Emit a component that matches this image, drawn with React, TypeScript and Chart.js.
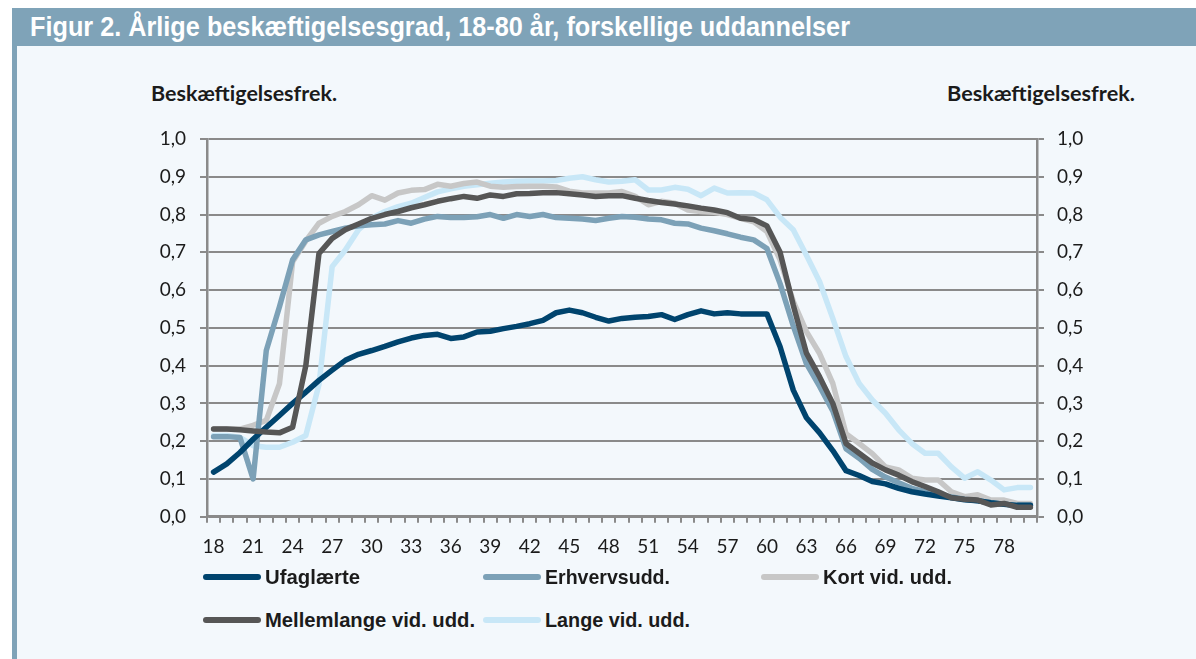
import React, { useEffect, useLayoutEffect, useRef } from 'react';
import { Chart, registerables } from 'chart.js';

Chart.register(...registerables);

const TITLE = 'Figur 2. Årlige beskæftigelsesgrad, 18-80 år, forskellige uddannelser';
const AXIS_TITLE = 'Beskæftigelsesfrek.';

const AGES = [
  '18', '19', '20', '21', '22', '23', '24', '25', '26', '27', '28', '29', '30', '31', '32', '33',
  '34', '35', '36', '37', '38', '39', '40', '41', '42', '43', '44', '45', '46', '47', '48', '49',
  '50', '51', '52', '53', '54', '55', '56', '57', '58', '59', '60', '61', '62', '63', '64', '65',
  '66', '67', '68', '69', '70', '71', '72', '73', '74', '75', '76', '77', '78', '79', '80',
];

const X_TICK_LABELS = ['18', '21', '24', '27', '30', '33', '36', '39', '42', '45', '48', '51', '54', '57', '60', '63', '66', '69', '72', '75', '78'];
const Y_TICK_LABELS = ['0,0', '0,1', '0,2', '0,3', '0,4', '0,5', '0,6', '0,7', '0,8', '0,9', '1,0'];

const UFAGLAERTE = [
  0.118, 0.14, 0.17, 0.205, 0.237, 0.268, 0.3, 0.33, 0.361, 0.388, 0.414, 0.43, 0.44, 0.451, 0.463, 0.473,
  0.48, 0.483, 0.472, 0.476, 0.489, 0.491, 0.498, 0.504, 0.511, 0.52, 0.54, 0.547, 0.54, 0.528, 0.518, 0.525,
  0.528, 0.53, 0.535, 0.522, 0.535, 0.545, 0.537, 0.54, 0.537, 0.537, 0.537, 0.45, 0.335, 0.262, 0.222, 0.175,
  0.122, 0.109, 0.093, 0.087, 0.075, 0.066, 0.06, 0.055, 0.05, 0.045, 0.042, 0.037, 0.033, 0.03, 0.03,
];

const ERHVERVSUDD = [
  0.212, 0.212, 0.21, 0.1, 0.44, 0.556, 0.68, 0.733, 0.746, 0.755, 0.764, 0.77, 0.773, 0.775, 0.784, 0.777,
  0.788, 0.795, 0.792, 0.792, 0.794, 0.8, 0.79, 0.8, 0.795, 0.8, 0.792, 0.79, 0.788, 0.784, 0.79, 0.795,
  0.793, 0.788, 0.786, 0.777, 0.775, 0.764, 0.757, 0.749, 0.74, 0.733, 0.71, 0.617, 0.505, 0.405, 0.345, 0.28,
  0.18, 0.155, 0.125, 0.105, 0.09, 0.075, 0.066, 0.058, 0.052, 0.046, 0.042, 0.037, 0.033, 0.03, 0.03,
];

const KORT = [
  0.232, 0.232, 0.232, 0.242, 0.255, 0.352, 0.675, 0.73, 0.777, 0.795, 0.808, 0.826, 0.85, 0.838, 0.857, 0.864,
  0.866, 0.88, 0.875, 0.882, 0.886, 0.875, 0.872, 0.874, 0.875, 0.875, 0.873, 0.862, 0.857, 0.857, 0.857, 0.861,
  0.848, 0.826, 0.835, 0.83, 0.812, 0.808, 0.806, 0.8, 0.79, 0.781, 0.755, 0.68, 0.57, 0.49, 0.432, 0.353,
  0.22, 0.194, 0.167, 0.132, 0.124, 0.102, 0.097, 0.097, 0.066, 0.053, 0.058, 0.044, 0.044, 0.035, 0.035,
];

const MELLEMLANGE = [
  0.232, 0.232, 0.23, 0.227, 0.224, 0.222, 0.237, 0.4, 0.697, 0.737, 0.76, 0.775, 0.79, 0.8, 0.808, 0.818,
  0.826, 0.835, 0.842, 0.848, 0.843, 0.852, 0.848, 0.855, 0.856, 0.858, 0.858, 0.855, 0.852, 0.848, 0.85, 0.85,
  0.843, 0.837, 0.832, 0.828, 0.823, 0.817, 0.812, 0.805, 0.79, 0.787, 0.77, 0.7, 0.56, 0.433, 0.37, 0.3,
  0.194, 0.168, 0.142, 0.124, 0.11, 0.093, 0.08, 0.066, 0.05, 0.046, 0.044, 0.031, 0.035, 0.025, 0.025,
];

const LANGE = [
  0.215, 0.215, 0.21, 0.188, 0.184, 0.184, 0.197, 0.215, 0.35, 0.662, 0.706, 0.76, 0.79, 0.808, 0.821, 0.83,
  0.845, 0.86, 0.868, 0.875, 0.879, 0.883, 0.886, 0.888, 0.889, 0.889, 0.89, 0.896, 0.9, 0.892, 0.886, 0.888,
  0.892, 0.865, 0.865, 0.872, 0.867, 0.85, 0.87, 0.857, 0.858, 0.857, 0.839, 0.793, 0.76, 0.692, 0.622, 0.525,
  0.424, 0.353, 0.309, 0.274, 0.23, 0.194, 0.168, 0.168, 0.132, 0.102, 0.119, 0.097, 0.071, 0.077, 0.077,
];

const SERIES_NAMES = ['Ufaglærte', 'Erhvervsudd.', 'Kort vid. udd.', 'Mellemlange vid. udd.', 'Lange vid. udd.'];
const SERIES_VALUES = [UFAGLAERTE, ERHVERVSUDD, KORT, MELLEMLANGE, LANGE];
const SERIES_COLORS = ['#00446e', '#7ca1b7', '#c7c7c7', '#565656', '#c8e7f7'];
const SERIES_ORDER = [1, 2, 3, 0, 4];

const GRID = '#8a8a8a';
const TEXT = '#1b1b1b';
const BAR = '#7fa3b8';
const PANEL = '#f3f8fc';

const LEGEND_POS = [
  { x: 203, y: 577, w: 95 },
  { x: 483, y: 577, w: 125 },
  { x: 761, y: 577, w: 129 },
  { x: 203, y: 620, w: 210 },
  { x: 483, y: 620, w: 145 },
];

function FitText({ text, width, style }: { text: string; width: number; style: React.CSSProperties }) {
  const ref = useRef<HTMLSpanElement | null>(null);
  useLayoutEffect(() => {
    const el = ref.current;
    if (!el) return;
    el.style.transform = 'none';
    const w = el.getBoundingClientRect().width;
    if (w > 0) el.style.transform = `scaleX(${width / w})`;
  }, [text, width]);
  return (
    <span
      ref={ref}
      style={{ ...style, display: 'inline-block', whiteSpace: 'nowrap', transformOrigin: 'left center' }}
    >
      {text}
    </span>
  );
}

export default function App() {
  const canvasRef = useRef<HTMLCanvasElement | null>(null);

  useEffect(() => {
    const canvas = canvasRef.current;
    if (!canvas) return;
    const tickFont = { family: 'Lato, "Open Sans", sans-serif', size: 19 };
    const chart = new Chart(canvas, {
      type: 'line',
      data: {
        labels: AGES,
        datasets: SERIES_NAMES.map((name, i) => ({
          label: name,
          data: SERIES_VALUES[i],
          borderColor: SERIES_COLORS[i],
          backgroundColor: SERIES_COLORS[i],
          borderWidth: 5.5,
          pointRadius: 0,
          tension: 0,
          fill: false,
          order: SERIES_ORDER[i],
          borderJoinStyle: 'round' as const,
          borderCapStyle: 'round' as const,
        })),
      },
      options: {
        animation: false,
        responsive: false,
        maintainAspectRatio: false,
        layout: { padding: { top: 39, left: 0, right: 0, bottom: 0 } },
        plugins: {
          legend: { display: false },
          tooltip: { enabled: false },
          title: { display: false },
        },
        scales: {
          x: {
            type: 'category',
            offset: true,
            grid: {
              offset: true,
              drawOnChartArea: false,
              drawTicks: true,
              tickLength: 6,
              color: GRID,
              lineWidth: 2,
            },
            border: { display: true, color: GRID, width: 2.5 },
            ticks: {
              autoSkip: false,
              maxRotation: 0,
              minRotation: 0,
              padding: 13,
              color: TEXT,
              font: tickFont,
              callback: (_v: any, i: number) => (X_TICK_LABELS.includes(AGES[i]) ? AGES[i] : ''),
            },
            afterFit: (s: any) => {
              s.height = 53.3;
            },
          },
          y: {
            position: 'left',
            min: 0,
            max: 1,
            grid: { color: GRID, lineWidth: 2, tickLength: 7, drawTicks: true },
            border: { display: true, color: GRID, width: 2.5 },
            ticks: {
              stepSize: 0.1,
              padding: 14,
              color: TEXT,
              font: tickFont,
              callback: (_v: any, i: number) => Y_TICK_LABELS[i],
            },
            afterFit: (s: any) => {
              s.width = 190;
            },
          },
          y2: {
            position: 'right',
            min: 0,
            max: 1,
            grid: { color: GRID, lineWidth: 2, tickLength: 7, drawTicks: true, drawOnChartArea: false },
            border: { display: true, color: GRID, width: 2.5 },
            ticks: {
              stepSize: 0.1,
              padding: 13,
              color: TEXT,
              font: tickFont,
              callback: (_v: any, i: number) => Y_TICK_LABELS[i],
            },
            afterFit: (s: any) => {
              s.width = 159;
            },
          },
        },
      },
    });
    return () => chart.destroy();
  }, []);

  const boldFont = '"Liberation Sans", Arial, sans-serif';
  const axisTitleStyle: React.CSSProperties = {
    fontFamily: 'Lato, "Open Sans", sans-serif',
    fontWeight: 700,
    fontSize: 21,
    lineHeight: '26px',
    color: TEXT,
  };

  return (
    <div style={{ position: 'absolute', left: 0, top: 0, width: 1196, height: 659, background: '#ffffff', overflow: 'hidden' }}>
      <div style={{ position: 'absolute', left: 12, top: 8, width: 1184, height: 38, background: BAR }} />
      <div style={{ position: 'absolute', left: 30, top: 8, height: 38, lineHeight: '38px' }}>
        <FitText
          text={TITLE}
          width={820}
          style={{ color: '#ffffff', fontFamily: boldFont, fontWeight: 700, fontSize: 27, lineHeight: '38px' }}
        />
      </div>
      <div style={{ position: 'absolute', left: 12, top: 46, width: 5, height: 613, background: BAR }} />
      <div style={{ position: 'absolute', left: 17, top: 46, width: 1179, height: 613, background: PANEL }} />
      <div style={{ position: 'absolute', left: 151, top: 80 }}>
        <FitText text={AXIS_TITLE} width={186} style={axisTitleStyle} />
      </div>
      <div style={{ position: 'absolute', left: 947, top: 80 }}>
        <FitText text={AXIS_TITLE} width={188} style={axisTitleStyle} />
      </div>
      <canvas
        ref={canvasRef}
        width={1179}
        height={470}
        style={{ position: 'absolute', left: 17, top: 100, width: 1179, height: 470 }}
      />
      {SERIES_NAMES.map((name, i) => (
        <div key={name}>
          <div
            style={{
              position: 'absolute',
              left: LEGEND_POS[i].x,
              top: LEGEND_POS[i].y - 3,
              width: 58,
              height: 6,
              borderRadius: 3,
              background: SERIES_COLORS[i],
            }}
          />
          <div style={{ position: 'absolute', left: LEGEND_POS[i].x + 62, top: LEGEND_POS[i].y - 13 }}>
            <FitText
              text={name}
              width={LEGEND_POS[i].w}
              style={{ fontFamily: boldFont, fontWeight: 700, fontSize: 21, lineHeight: '26px', color: TEXT }}
            />
          </div>
        </div>
      ))}
    </div>
  );
}
